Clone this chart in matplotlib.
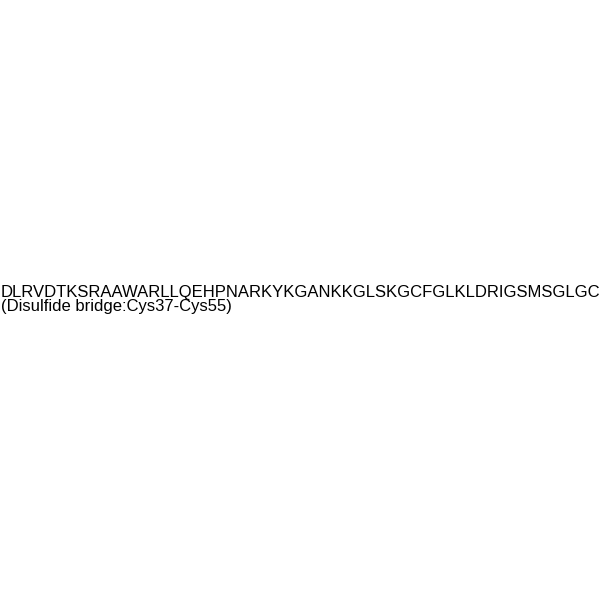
import matplotlib
matplotlib.use("Agg")
import matplotlib.pyplot as plt

sequence = "DLRVDTKSRAAWARLLQEHPNARKYKGANKKGLSKGCFGLKLDRIGSMSGLGC"
note = "(Disulfide bridge:Cys37-Cys55)"

fig = plt.figure(figsize=(6, 6), dpi=100)
fig.patch.set_facecolor("white")

fig.text(0.001, 1 - 296.5 / 600, sequence, fontsize=12.0, family="Liberation Sans",
         ha="left", va="baseline", color="black")
fig.text(0.001, 1 - 311 / 600, note, fontsize=12.0, family="Liberation Sans",
         ha="left", va="baseline", color="black")

fig.savefig("out.png", dpi=100, facecolor="white")
